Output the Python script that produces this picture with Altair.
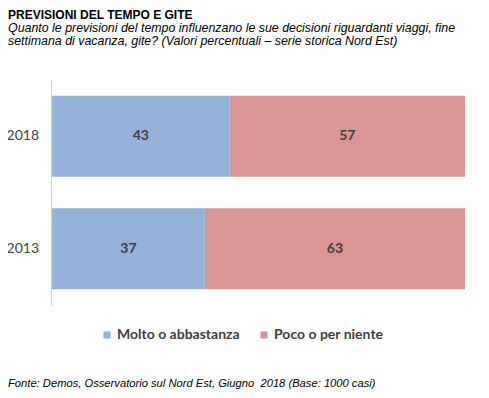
import altair as alt
import pandas as pd

years = ["2018", "2013"]
categories = ["Molto o abbastanza", "Poco o per niente"]
molto = [43, 37]
poco = [57, 63]
colors = ["#95B3D7", "#D99694"]

title = "PREVISIONI DEL TEMPO E GITE"
subtitle = [
    "Quanto le previsioni del tempo influenzano le sue decisioni riguardanti viaggi, fine",
    "settimana di vacanza, gite? (Valori percentuali \u2013 serie storica Nord Est)",
]
footer = "Fonte: Demos, Osservatorio sul Nord Est, Giugno \u00a02018 (Base: 1000 casi)"

rows = []
for i, y in enumerate(years):
    rows.append({"anno": y, "cat": categories[0], "val": molto[i], "ord": 0})
    rows.append({"anno": y, "cat": categories[1], "val": poco[i], "ord": 1})
df = pd.DataFrame(rows)

W, H = 473, 382
X0, X1 = 44, 457      # plot area (horizontal) inside the chart
Y0, Y1 = 72, 297      # plot area (vertical) inside the chart

xscale = alt.Scale(domain=[0, 100], nice=False, zero=True, range=[X0, X1])
yscale = alt.Scale(domain=years, range=[Y0, Y1], paddingInner=0.28, paddingOuter=0.14)

base = alt.Chart(df).transform_stack(
    stack="val", groupby=["anno"], as_=["x0", "x1"], sort=[alt.SortField("ord")]
).transform_calculate(mid="(datum.x0 + datum.x1) / 2")

bars = base.mark_bar().encode(
    x=alt.X("x0:Q", scale=xscale, axis=None),
    x2="x1:Q",
    y=alt.Y("anno:N", scale=yscale, axis=None),
    color=alt.Color("cat:N", scale=alt.Scale(domain=categories, range=colors),
                    legend=alt.Legend(orient="none", legendX=92, legendY=320,
                                      direction="horizontal", title=None,
                                      symbolType="square", symbolSize=50,
                                      symbolStrokeWidth=0, padding=0,
                                      labelFont="Lato", labelFontSize=14,
                                      labelFontWeight="bold", labelColor="#404040",
                                      columnPadding=17, labelOffset=3)),
)

labels = base.mark_text(font="Lato", fontSize=14, fontWeight="bold",
                        color="#404040").encode(
    x=alt.X("mid:Q", scale=xscale, axis=None),
    y=alt.Y("anno:N", scale=yscale, axis=None),
    text="val:Q",
)

ydf = pd.DataFrame({"anno": years})
ylabels = alt.Chart(ydf).mark_text(font="Lato", fontSize=14, color="#404040",
                                   align="right").encode(
    x=alt.value(31),
    y=alt.Y("anno:N", scale=yscale, axis=None),
    text="anno:N",
)

axisline = alt.Chart(ydf).mark_rule(color="#D0D0D0", strokeWidth=1).encode(
    x=alt.value(X0 - 0.5), y=alt.value(Y0), y2=alt.value(Y1 + 1))

def txt(s, size, x, y, **kw):
    return alt.Chart(pd.DataFrame({"t": [s]})).mark_text(
        font="Liberation Sans", fontSize=size, align="left",
        baseline="alphabetic", color="#000000", **kw).encode(
        x=alt.value(x), y=alt.value(y), text="t:N")

t1 = txt(title, 12, 0, 10.5, fontWeight="bold")
s1 = txt(subtitle[0], 12.4, 0, 24, fontStyle="italic")
s2 = txt(subtitle[1], 12.4, 0, 37, fontStyle="italic")
f1 = txt(footer, 11.2, 0, 379, fontStyle="italic")

chart = alt.layer(axisline, bars, labels, ylabels, t1, s1, s2, f1).properties(
    width=W, height=H,
    autosize=alt.AutoSizeParams(type="none"),
    padding=0,
).configure(background="white").configure_view(stroke=None)

chart.save("out.html", embed_options={"renderer": "svg", "actions": False})
